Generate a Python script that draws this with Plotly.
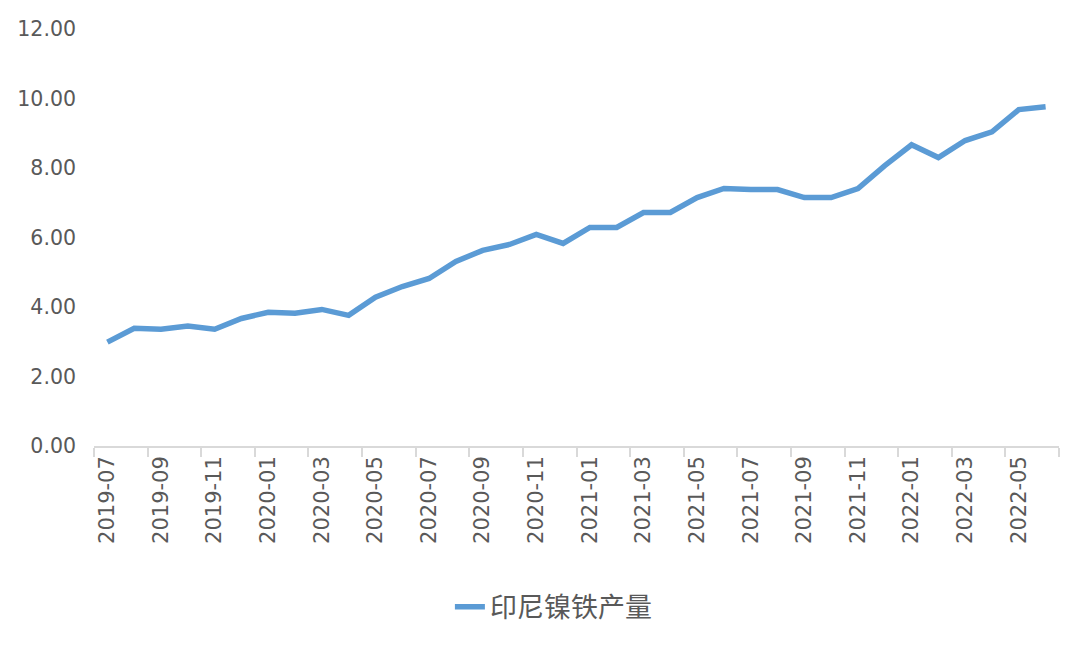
import plotly.graph_objects as go

months = [
    "2019-07", "2019-08", "2019-09", "2019-10", "2019-11", "2019-12",
    "2020-01", "2020-02", "2020-03", "2020-04", "2020-05", "2020-06",
    "2020-07", "2020-08", "2020-09", "2020-10", "2020-11", "2020-12",
    "2021-01", "2021-02", "2021-03", "2021-04", "2021-05", "2021-06",
    "2021-07", "2021-08", "2021-09", "2021-10", "2021-11", "2021-12",
    "2022-01", "2022-02", "2022-03", "2022-04", "2022-05", "2022-06",
]
output = [
    2.99, 3.39, 3.36, 3.45, 3.36, 3.67,
    3.85, 3.82, 3.93, 3.76, 4.28, 4.59,
    4.82, 5.31, 5.63, 5.80, 6.09, 5.83,
    6.29, 6.29, 6.72, 6.72, 7.15, 7.41,
    7.38, 7.38, 7.15, 7.15, 7.41, 8.07,
    8.67, 8.30, 8.79, 9.04, 9.68, 9.76,
]
series_name = "印尼镍铁产量"

fig = go.Figure()
fig.add_trace(go.Scatter(
    x=months, y=output, mode="lines", name=series_name,
    line=dict(color="#5B9BD5", width=5.5),
))

fig.update_layout(
    width=1080, height=645,
    paper_bgcolor="white", plot_bgcolor="white",
    margin=dict(l=86, r=29, t=21, b=207),
    font=dict(family="Noto Sans CJK SC, DejaVu Sans, sans-serif", color="#595959"),
    showlegend=True,
    legend=dict(
        orientation="h", xref="container", yref="container",
        x=0.505, xanchor="center", y=0.071, yanchor="middle",
        font=dict(size=27, color="#595959"),
    ),
    xaxis=dict(
        type="category", tickson="boundaries", dtick=2,
        range=[-0.5, len(months) - 0.5], automargin=False,
        tickangle=-90, ticks="outside", ticklen=9, tickcolor="#d9d9d9", tickwidth=1.5,
        showline=True, linecolor="#d9d9d9", linewidth=1.5,
        showgrid=False, zeroline=False,
        tickfont=dict(family="DejaVu Sans, sans-serif", size=21, color="#595959"),
    ),
    yaxis=dict(
        range=[0, 12], dtick=2, tickformat=".2f", automargin=False,
        showgrid=False, zeroline=False, showline=False,
        ticklabelstandoff=17,
        tickfont=dict(family="DejaVu Sans, sans-serif", size=20.5, color="#595959"),
    ),
)

fig.write_html("out.html")
